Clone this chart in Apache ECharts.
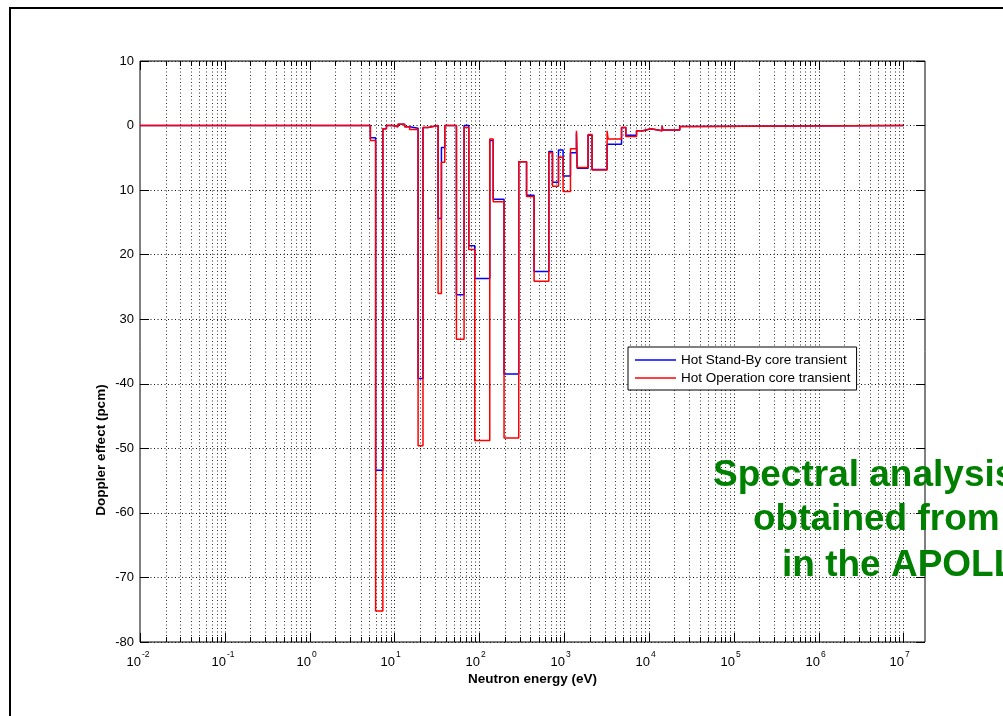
<!DOCTYPE html>
<html><head><meta charset="utf-8">
<script src="https://cdn.jsdelivr.net/npm/echarts@6/dist/echarts.min.js"></script>
<style>html,body{margin:0;padding:0;background:#fff;}#c{width:1003px;height:716px;}</style>
</head><body><div id="c"></div>
<script>
// Energy bin edges (eV)
const binEdges = [0.01, 5.2, 6.0, 7.3, 8.05, 9.6, 11.0, 13.2, 15.1, 19.0,
  21.7, 24.9, 32.7, 35.8, 39.2, 53.8, 66.2, 75.2, 88.5, 133,
  146, 196, 292, 361, 443, 661, 730, 859, 973, 1189,
  1399, 1426, 1918, 2138, 3215, 3304, 4756, 5346, 7148, 8550,
  10540, 14330, 14560, 23110, 32960, 1e7];
// Doppler effect per bin (pcm)
const standBy = [0, -1.9, -53.4, -0.5, 0, -0.2, 0.2, -0.2, -0.4, -39.2,
  -0.3, 0, -14.4, -3.4, 0, -26.2, 0, -18.6, -23.7, -2.3,
  -11.4, -38.5, -5.6, -10.8, -22.6, -4.0, -8.8, -3.8, -7.8, -4.2,
  -1.2, -6.6, -1.5, -6.8, -2.9, -2.9, -0.3, -1.5, -0.8, -0.5,
  -0.8, -0.1, -0.7, -0.15, 0];
const operation = [0, -2.3, -75.2, -0.5, 0, -0.2, 0.2, -0.2, -0.6, -49.6,
  -0.3, 0, -26.0, -5.7, 0, -33.1, -0.3, -19.2, -48.8, -2.1,
  -11.8, -48.4, -5.6, -11.0, -24.1, -4.2, -9.4, -4.9, -10.2, -3.6,
  -0.8, -6.5, -1.4, -6.9, -0.8, -2.1, -0.3, -1.7, -0.8, -0.5,
  -0.8, -0.1, -0.7, -0.15, 0];
const seriesNames = ['Hot Stand-By core transient', 'Hot Operation core transient'];
const yTickValues = [-80, -70, -60, -50, -40, -30, -20, -10, 0, 10];
const yTickLabels = ['-80', '-70', '-60', '-50', '-40', '30', '20', '10', '0', '10'];
const xDecades = [0.01, 0.1, 1, 10, 100, 1e3, 1e4, 1e5, 1e6, 1e7];
const xExponents = ['-2', '-1', '0', '1', '2', '3', '4', '5', '6', '7'];
const overlayLines = ['Spectral analysis', 'obtained from', 'in the APOLL'];

const FONT = 'Liberation Sans';
const X_MIN = 0.01, X_MAX = 1.8e7, Y_MIN = -80, Y_MAX = 10;

function stepPoints(vals) {
  const pts = [];
  for (let i = 0; i < vals.length; i++) {
    pts.push([binEdges[i], vals[i]]);
    pts.push([binEdges[i + 1], vals[i]]);
  }
  return pts;
}

// grid/tick positions on log axis: decades and 2..9 subdivisions
const gridData = [];
for (let d = 0; d < xDecades.length; d++) {
  gridData.push([xDecades[d], 1, d]);
  if (d < xDecades.length - 1) {
    for (let m = 2; m <= 9; m++) gridData.push([xDecades[d] * m, 0, -1]);
  }
}

function renderGrid(params, api) {
  const v = api.value(0);
  const major = api.value(1) === 1;
  const idx = api.value(2);
  const pTop = api.coord([v, Y_MAX]);
  const pBot = api.coord([v, Y_MIN]);
  const x = Math.round(pTop[0]) + 0.5;
  const children = [];
  if (v > X_MIN * 1.001) {
    children.push({type: 'line', shape: {x1: x, y1: pTop[1], x2: x, y2: pBot[1]},
      style: {stroke: major ? '#111' : '#333', lineWidth: 1, lineDash: [1, 2.5]}});
  }
  const tl = major ? 9 : 5;
  children.push({type: 'line', shape: {x1: x, y1: pBot[1], x2: x, y2: pBot[1] - tl}, style: {stroke: '#000', lineWidth: 1}});
  children.push({type: 'line', shape: {x1: x, y1: pTop[1], x2: x, y2: pTop[1] + tl}, style: {stroke: '#000', lineWidth: 1}});
  if (major && idx >= 0) {
    children.push({type: 'text', x: x + 0.5, y: pBot[1] + 27,
      style: {text: '10', fill: '#000', font: '13px ' + FONT, align: 'right', verticalAlign: 'bottom'}});
    children.push({type: 'text', x: x + 1.5, y: pBot[1] + 17,
      style: {text: xExponents[idx], fill: '#000', font: '8.5px ' + FONT, align: 'left', verticalAlign: 'bottom'}});
  }
  return {type: 'group', children};
}

const chart = echarts.init(document.getElementById('c'));
chart.setOption({
  animation: false,
  backgroundColor: '#fff',
  textStyle: {fontFamily: FONT},
  grid: {left: 140, top: 61, right: 78, bottom: 74, show: true, borderColor: '#000', borderWidth: 1, backgroundColor: 'transparent'},
  xAxis: {
    type: 'log', logBase: 10, min: X_MIN, max: X_MAX,
    axisLine: {show: false}, axisTick: {show: false}, axisLabel: {show: false}, splitLine: {show: false},
    name: 'Neutron energy (eV)', nameLocation: 'middle', nameGap: 30,
    nameTextStyle: {fontFamily: FONT, fontSize: 13.5, fontWeight: 'bold', color: '#000'}
  },
  yAxis: [{
    type: 'value', min: Y_MIN, max: Y_MAX, interval: 10,
    axisLine: {show: false},
    axisTick: {show: true, inside: true, length: 9, lineStyle: {color: '#000'}},
    axisLabel: {color: '#000', fontSize: 13, fontFamily: FONT, margin: 6,
      formatter: v => { const i = yTickValues.indexOf(v); return i >= 0 ? yTickLabels[i] : ''; }},
    splitLine: {show: true, lineStyle: {color: '#111', width: 1, type: [1, 2.5]}}
  }, {
    type: 'value', min: Y_MIN, max: Y_MAX, interval: 10, position: 'right',
    axisLine: {show: false}, axisLabel: {show: false}, splitLine: {show: false},
    axisTick: {show: true, inside: true, length: 9, lineStyle: {color: '#000'}}
  }],
  legend: {
    orient: 'vertical', left: 628, top: 347,
    padding: [6, 6, 5, 7], itemGap: 4, itemWidth: 41, itemHeight: 1.5, icon: 'rect',
    backgroundColor: '#fff', borderColor: '#000', borderWidth: 1,
    textStyle: {fontFamily: FONT, fontSize: 13.5, color: '#000'},
    data: seriesNames
  },
  series: [
    {type: 'custom', silent: true, z: 1, xAxisIndex: 0, yAxisIndex: 0, renderItem: renderGrid, data: gridData, clip: false},
    {name: seriesNames[0], type: 'line', z: 3, symbol: 'none', data: stepPoints(standBy),
      lineStyle: {color: '#0000ff', width: 1.5}, itemStyle: {color: '#0000ff'}},
    {name: seriesNames[1], type: 'line', z: 4, symbol: 'none', data: stepPoints(operation),
      lineStyle: {color: '#ff0000', width: 1.5}, itemStyle: {color: '#ff0000'}}
  ],
  graphic: [
    {type: 'rect', z: 100, shape: {x: 10, y: 8, width: 1200, height: 900}, style: {fill: 'none', stroke: '#000', lineWidth: 2}},
    {type: 'text', z: 100, x: 101.5, y: 450, rotation: Math.PI / 2,
      style: {text: 'Doppler effect (pcm)', font: 'bold 13.5px ' + FONT, fill: '#000', align: 'center', verticalAlign: 'middle'}},
    {type: 'text', z: 100, x: 713, y: 475.4, style: {text: overlayLines[0], font: 'bold 37px ' + FONT, fill: '#008000', align: 'left', verticalAlign: 'middle'}},
    {type: 'text', z: 100, x: 753, y: 519.4, style: {text: overlayLines[1], font: 'bold 37px ' + FONT, fill: '#008000', align: 'left', verticalAlign: 'middle'}},
    {type: 'text', z: 100, x: 782, y: 565.4, style: {text: overlayLines[2], font: 'bold 37px ' + FONT, fill: '#008000', align: 'left', verticalAlign: 'middle'}}
  ]
});
</script></body></html>
